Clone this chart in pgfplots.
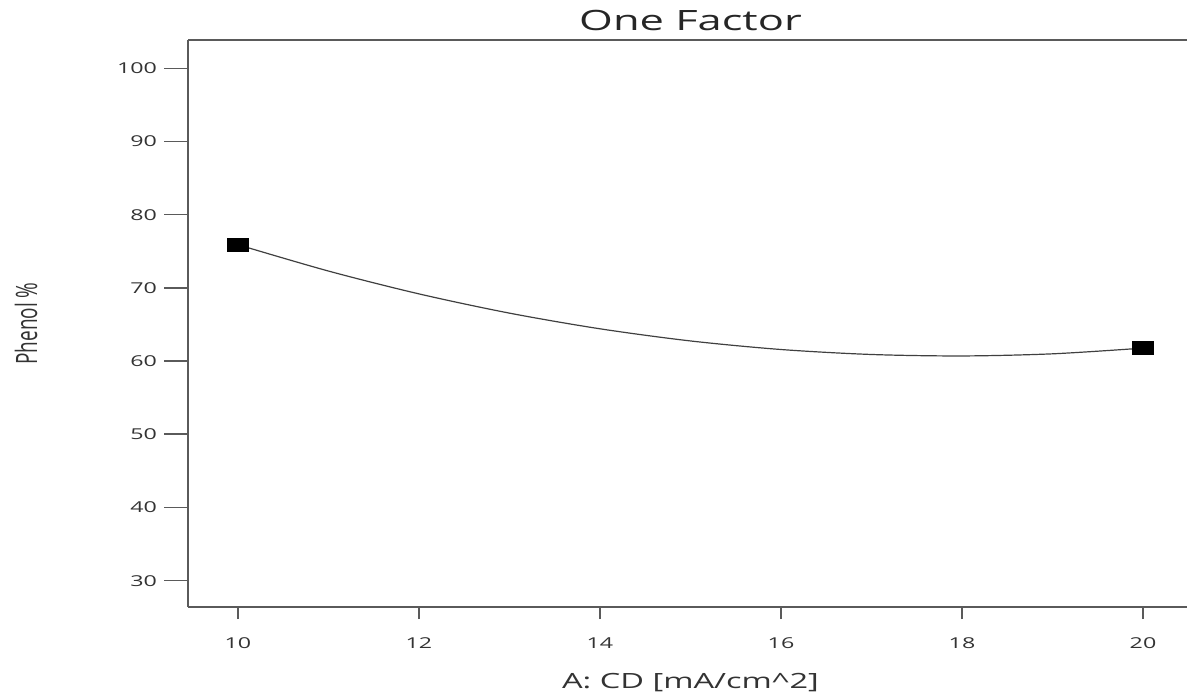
\documentclass[border=0pt]{standalone}
\usepackage{fontspec}
\setmainfont{Open Sans}
\usepackage{pgfplots}
\pgfplotsset{compat=1.18}
\newcommand{\hs}[1]{\scalebox{1.55}[1]{#1}}
\definecolor{axgray}{HTML}{5A5A5A}
\definecolor{txt}{HTML}{333333}
\begin{document}
\begin{tikzpicture}
\path[use as bounding box] (-94pt,-44pt) rectangle (499.5pt,303.5pt);
\begin{axis}[
  at={(0,0)}, anchor=south west,
  scale only axis, width=499.5pt, height=283.5pt,
  xmin=9.448, xmax=20.486, ymin=26.4, ymax=103.87,
  axis x line*=bottom, axis y line*=left,
  axis line style={axgray, line width=1pt},
  xtick={10,12,...,20}, ytick={30,40,...,100},
  tick align=outside,
  major tick length=12pt,
  xtick style={/pgfplots/major tick length=6pt, axgray, line width=1.2pt},
  ytick style={axgray, line width=0.8pt},
  xticklabel={\hs{\pgfmathprintnumber[assume math mode=true]{\tick}}},
  yticklabel={\hs{\pgfmathprintnumber[assume math mode=true]{\tick}}},
  tick label style={font=\fontsize{7.5}{9}\selectfont, text=txt},
  clip=false,
]
\draw[axgray, line width=1pt] (rel axis cs:0,1) -- (rel axis cs:1,1);
\addplot[smooth, draw=black!75, line width=0.6pt] coordinates {
  (10,75.9) (11,72.3) (12,69.18) (13,66.55) (14,64.41) (15,62.75)
  (16,61.58) (17,60.90) (18,60.70) (19,60.99) (20,61.77)
};
\addplot[only marks, mark=square*, mark size=3.25pt, mark options={xscale=1.65, fill=black, draw=black}] coordinates {
  (10,75.9) (20,61.77)
};
\node[anchor=base, font=\fontsize{14}{16}\selectfont, text=black!85] at (axis cs:15,103.87) [yshift=4.5pt] {\hs{One Factor}};
\node[anchor=base, font=\fontsize{10.5}{12}\selectfont, text=txt] at (axis cs:15,26.4) [yshift=-40.5pt] {\hs{A: CD [mA/cm\textasciicircum2]}};
\end{axis}
\node[rotate=90, anchor=center, font=\fontsize{9.5}{11}\selectfont, text=txt] at (-81pt,141.75pt) {\scalebox{1}[1.55]{Phenol \%}};
\end{tikzpicture}
\end{document}
